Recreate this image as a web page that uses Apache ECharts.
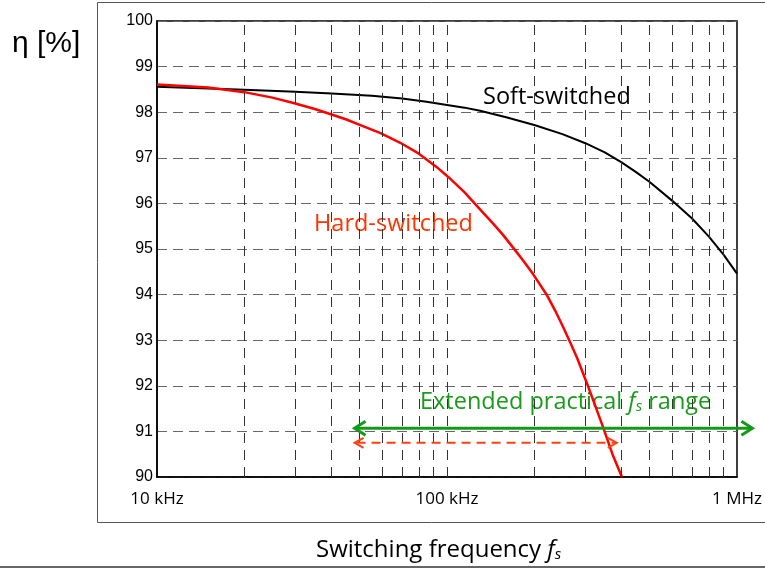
<!DOCTYPE html>
<html>
<head>
<meta charset="utf-8">
<script src="https://cdn.jsdelivr.net/npm/echarts@6/dist/echarts.min.js"></script>
<style>html,body{margin:0;padding:0;background:#fff;}#c{width:765px;height:569px;}</style>
</head>
<body>
<div id="c"></div>
<script>
// Data
const xTickValues = [10000, 100000, 1000000];
const xTickLabels = ['10 kHz', '100 kHz', '1 MHz'];
const xGridValues = [20000, 30000, 40000, 50000, 60000, 70000, 80000, 90000, 100000,
  200000, 300000, 400000, 500000, 600000, 700000, 800000, 900000];
const softSwitched = [
  [10000, 98.56], [20000, 98.49], [30000, 98.45], [40000, 98.41], [55000, 98.36],
  [70000, 98.3], [85000, 98.23], [100000, 98.16], [115000, 98.1], [130000, 98.03], [160000, 97.89], [200000, 97.72],
  [250000, 97.52], [300000, 97.32], [350000, 97.12], [400000, 96.9], [450000, 96.68], [500000, 96.47],
  [600000, 96.05], [700000, 95.67], [800000, 95.27], [900000, 94.87], [1000000, 94.46]
];
const hardSwitched = [
  [10000, 98.61], [15000, 98.54], [20000, 98.44], [25000, 98.32], [30000, 98.19], [35000, 98.07], [40000, 97.95],
  [45000, 97.84], [50000, 97.72], [59000, 97.54], [69000, 97.33], [80000, 97.09], [92000, 96.8], [101000, 96.58],
  [115000, 96.24], [130000, 95.87], [144000, 95.56], [156000, 95.31], [169000, 95.03], [183000, 94.75], [198000, 94.45],
  [221000, 93.99], [236000, 93.65], [251000, 93.3], [266000, 92.95], [281000, 92.61], [306000, 92.0], [325000, 91.55],
  [345000, 91.1], [372000, 90.5], [401000, 90.0]
];
const greenArrow = [[48000, 1130000, 91.07]];
const redArrow = [[48000, 385000, 90.75]];

function arrowRender(color, width, dash) {
  return function (params, api) {
    const x1 = api.value(0), x2 = api.value(1), y = api.value(2);
    const p1 = api.coord([x1, y]);
    const p2 = api.coord([x2, y]);
    const L = width > 2 ? 11 : 9, H = width > 2 ? 7 : 5;
    const st = { stroke: color, lineWidth: width, fill: null };
    return {
      type: 'group',
      children: [
        { type: 'line', shape: { x1: p1[0] + 2, y1: p1[1], x2: p2[0] - 2, y2: p2[1] },
          style: Object.assign({}, st, dash ? { lineDash: dash } : {}) },
        { type: 'polyline', shape: { points: [[p1[0] + L, p1[1] - H], [p1[0], p1[1]], [p1[0] + L, p1[1] + H]] }, style: st },
        { type: 'polyline', shape: { points: [[p2[0] - L, p2[1] - H], [p2[0], p2[1]], [p2[0] - L, p2[1] + H]] }, style: st }
      ]
    };
  };
}

const chart = echarts.init(document.getElementById('c'), null, { renderer: 'canvas' });
chart.setOption({
  animation: false,
  backgroundColor: '#fff',
  grid: { left: 157, right: 28, top: 21, bottom: 92, show: true, borderColor: '#000', borderWidth: 1.5, containLabel: false },
  xAxis: {
    type: 'log', logBase: 10, min: 10000, max: 1000000,
    axisLine: { show: true, lineStyle: { color: '#000', width: 1.5 } },
    axisTick: { show: false },
    splitLine: { show: false },
    axisLabel: {
      margin: 14, color: '#000', fontSize: 17, fontFamily: '"Open Sans", sans-serif',
      formatter: function (v) {
        const i = xTickValues.findIndex(t => Math.abs(t - v) / t < 1e-6);
        return i >= 0 ? xTickLabels[i] : '';
      }
    }
  },
  yAxis: {
    type: 'value', min: 90, max: 100, interval: 1,
    axisLine: { show: true, lineStyle: { color: '#000', width: 1.5 } },
    axisTick: { show: false },
    splitLine: { show: true, lineStyle: { color: '#666', width: 1, type: [10, 6] } },
    axisLabel: { margin: 4, color: '#000', fontSize: 16, fontFamily: '"Liberation Sans", Arial, sans-serif' }
  },
  series: [
    {
      type: 'line', data: [], silent: true,
      markLine: {
        silent: true, symbol: 'none', animation: false,
        label: { show: false },
        lineStyle: { color: '#333', width: 1, type: [10, 7] },
        data: xGridValues.map(v => ({ xAxis: v }))
      }
    },
    {
      name: 'Soft-switched', type: 'line', data: softSwitched, showSymbol: false, smooth: false,
      lineStyle: { color: '#000', width: 2, join: 'round' }, z: 3
    },
    {
      name: 'Hard-switched', type: 'line', data: hardSwitched, showSymbol: false, smooth: false,
      lineStyle: { color: '#ff0000', width: 2.5, join: 'round' }, z: 4
    },
    {
      type: 'custom', data: greenArrow, encode: { x: [0, 1], y: 2 }, clip: false, z: 5,
      renderItem: arrowRender('#149a18', 3, null)
    },
    {
      type: 'custom', data: redArrow, encode: { x: [0, 1], y: 2 }, clip: false, z: 5,
      renderItem: arrowRender('#ff4010', 2, [9, 6])
    }
  ],
  graphic: [
    { type: 'polyline', shape: { points: [[765, 2.5], [97.5, 2.5], [97.5, 522.5], [765, 522.5]] },
      style: { stroke: '#555', lineWidth: 1, fill: null }, silent: true },
    { type: 'line', shape: { x1: 0, y1: 567, x2: 765, y2: 567 }, style: { stroke: '#333', lineWidth: 1.5 }, silent: true },
    { type: 'text', left: 12, top: 29, style: { text: 'η [%]', font: '30px "Liberation Sans", Arial, sans-serif', fill: '#000' } },
    { type: 'text', left: 483, top: 85, style: { text: 'Soft-switched', font: '23.5px "Open Sans", sans-serif', fill: '#000' } },
    { type: 'text', left: 314, top: 212, style: { text: 'Hard-switched', font: '23.5px "Open Sans", sans-serif', fill: '#ff3300' } },
    { type: 'text', left: 420, top: 390, style: {
        text: '{n|Extended practical }{i|f}{s|s}{n| range}',
        rich: {
          n: { font: '23.5px "Open Sans", sans-serif', fill: '#1a9a1a' },
          i: { font: 'italic 23.5px "Open Sans", sans-serif', fill: '#1a9a1a' },
          s: { font: 'italic 15px "Open Sans", sans-serif', fill: '#1a9a1a', verticalAlign: 'bottom', padding: [8, 0, 0, 0] }
        }
      } },
    { type: 'text', left: 316, top: 538, style: {
        text: '{n|Switching frequency }{i|f}{s|s}',
        rich: {
          n: { font: '24px "Open Sans", sans-serif', fill: '#000' },
          i: { font: 'italic 24px "Open Sans", sans-serif', fill: '#000' },
          s: { font: 'italic 15px "Open Sans", sans-serif', fill: '#000', verticalAlign: 'bottom', padding: [8, 0, 0, 0] }
        }
      } }
  ]
});
</script>
</body>
</html>
